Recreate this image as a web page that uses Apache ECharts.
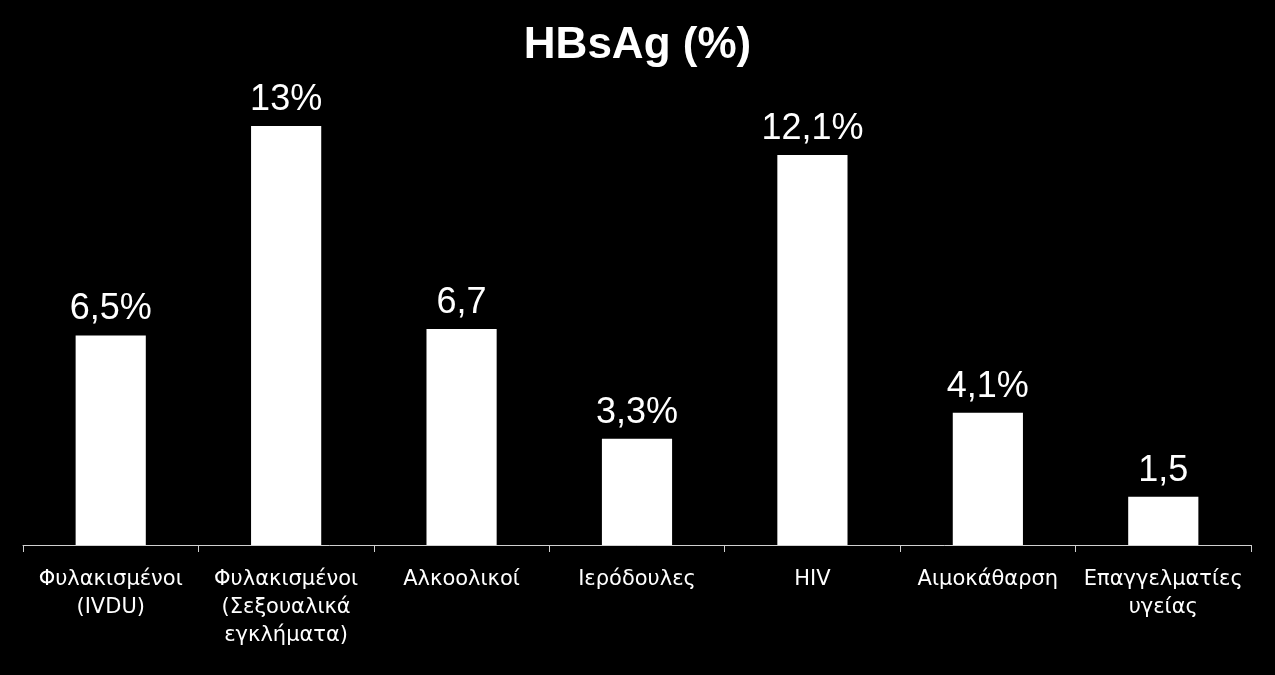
<!DOCTYPE html>
<html><head><meta charset="utf-8">
<script src="https://cdn.jsdelivr.net/npm/echarts@6/dist/echarts.min.js"></script>
<style>html,body{margin:0;padding:0;background:#000;}#c{width:1275px;height:675px;}</style>
</head><body><div id="c"></div>
<script>
const categories = ['Φυλακισμένοι\n(IVDU)', 'Φυλακισμένοι\n(Σεξουαλικά\nεγκλήματα)', 'Αλκοολικοί', 'Ιερόδουλες', 'HIV', 'Αιμοκάθαρση', 'Επαγγελματίες\nυγείας'];
const values = [6.5, 13, 6.7, 3.3, 12.1, 4.1, 1.5];
const valueLabels = ['6,5%', '13%', '6,7', '3,3%', '12,1%', '4,1%', '1,5'];
const title = 'HBsAg (%)';

const chart = echarts.init(document.getElementById('c'));
chart.setOption({
  backgroundColor: '#000',
  animation: false,
  title: { text: title, left: 'center', top: 19, textStyle: { color: '#fff', fontSize: 44, fontWeight: 'bold', fontFamily: 'Liberation Sans, Arial' } },
  grid: { left: 23, right: 24, top: 126, bottom: 130, containLabel: false },
  xAxis: {
    type: 'category', data: categories,
    axisLine: { lineStyle: { color: '#d0d0d0', width: 1 } },
    axisTick: { show: true, length: 7, lineStyle: { color: '#d0d0d0' } },
    axisLabel: { color: '#fff', fontSize: 21, fontFamily: 'DejaVu Sans', lineHeight: 28, margin: 21, interval: 0 }
  },
  yAxis: { type: 'value', min: 0, max: 13, show: false, splitLine: { show: false } },
  series: [{
    type: 'bar', data: values, barCategoryGap: '60%',
    itemStyle: { color: '#fff' },
    label: { show: true, position: 'top', distance: 8, color: '#fff', fontSize: 36, fontFamily: 'Liberation Sans, Arial',
      formatter: p => valueLabels[p.dataIndex] }
  }]
});
</script></body></html>
